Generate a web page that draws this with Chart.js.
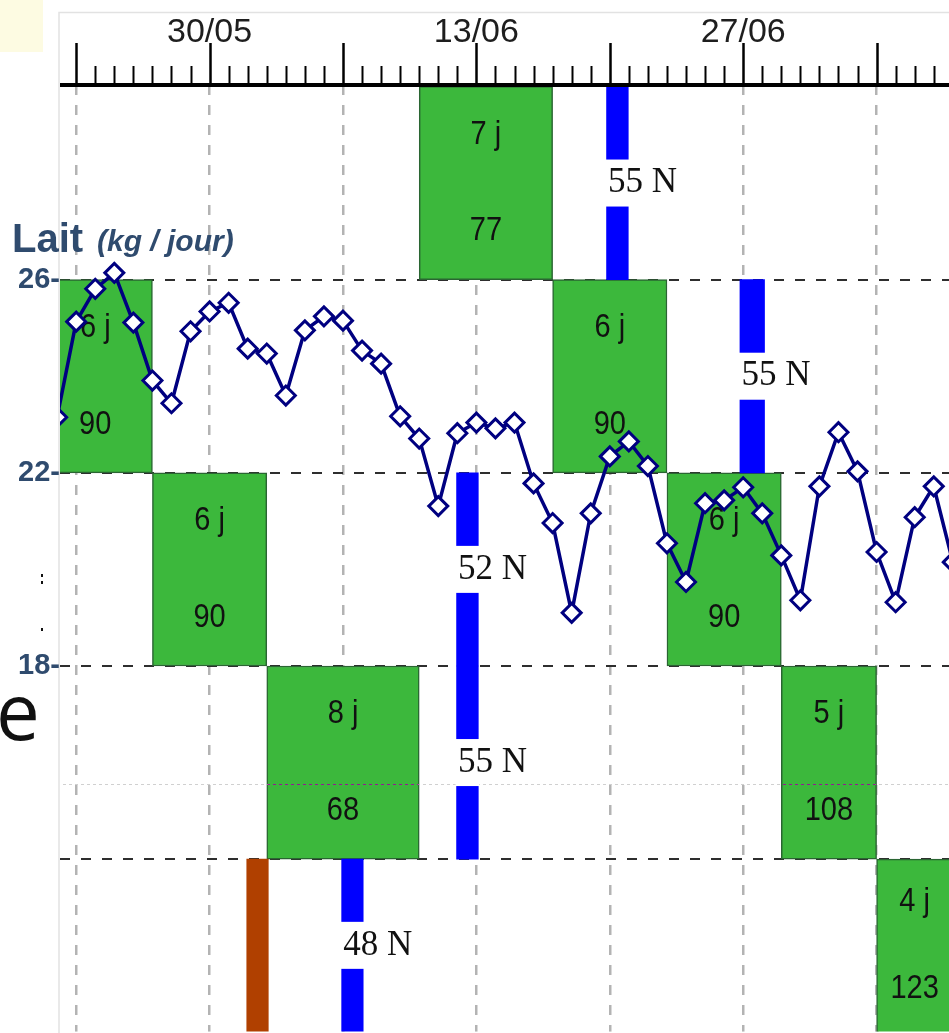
<!DOCTYPE html>
<html>
<head>
<meta charset="utf-8">
<script src="https://cdn.jsdelivr.net/npm/chart.js@4/dist/chart.umd.min.js"></script>
<style>
html,body{margin:0;padding:0;background:#fff;overflow:hidden}
#wrap{position:relative;width:949px;height:1033px}
canvas{display:block}
</style>
</head>
<body>
<div id="wrap"><canvas id="c" width="949" height="1033"></canvas></div>
<script>
// ---- Milk yield (kg / jour), one point per day; day 0 = 30/05 ----
const milkDays = [-8,-7,-6,-5,-4,-3,-2,-1,0,1,2,3,4,5,6,7,8,9,10,11,12,13,14,15,16,17,18,19,20,21,22,23,24,25,26,27,28,29,30,31,32,33,34,35,36,37,38,39];
const milkValues = [23.15,25.13,25.81,26.14,25.11,23.91,23.44,24.93,25.34,25.52,24.57,24.47,23.60,24.95,25.24,25.15,24.53,24.26,23.17,22.71,21.31,22.82,23.04,22.92,23.04,21.78,20.96,19.10,21.16,22.34,22.65,22.14,20.54,19.74,21.37,21.43,21.70,21.16,20.29,19.36,21.72,22.84,22.03,20.36,19.32,21.08,21.72,20.15];

// ---- Date axis ----
const tickDays = [0, 14, 28];
const tickLabels = ['30/05', '13/06', '27/06'];
const xMin = -7.85, xMax = 38.8;

// ---- Milk axis ----
const yTickValues = [26, 22, 18];
const rowLineValues = [14, 18, 22, 26];
const yMin = 10.43, yMax = 30.03;
const refLineValue = 15.55;

// ---- Grazing periods (paddock rows 0..4) ----
const grazeStart   = [-9, -3, 3, 11, 18, 24, 30, 35];
const grazeEnd     = [-3, 3, 11, 18, 24, 30, 35, 39];
const grazePaddock = [1, 2, 3, 0, 1, 2, 3, 4];
const grazeDays    = ['6 j', '6 j', '8 j', '7 j', '6 j', '6 j', '5 j', '4 j'];
const grazeAmount  = ['90', '90', '68', '77', '90', '90', '108', '123'];

// ---- Fertiliser applications ----
const fertStart   = [1.95, 6.93, 12.96, 12.96, 20.83, 27.83];
const fertEnd     = [3.08, 8.06, 14.10, 14.10, 21.97, 29.12];
const fertPaddock = [4, 4, 2, 3, 0, 1];
const fertLabel   = ['', '48 N', '52 N', '55 N', '55 N', '55 N'];
const fertKind    = ['other', 'N', 'N', 'N', 'N', 'N'];

// paddock row -> band on the shared value axis
const rowTop = r => 30 - 4 * r;
const rowBottom = r => 26 - 4 * r;
const rowCenter = r => 28 - 4 * r;

const SLATE = '#2f4b6e';

function bandPx(chart, r) {
  const y = chart.scales.y, a = chart.chartArea;
  return [Math.max(y.getPixelForValue(rowTop(r)), a.top), Math.min(y.getPixelForValue(rowBottom(r)), a.bottom)];
}
function drawText(ctx, text, x, y, font, color, align, sx) {
  ctx.save();
  ctx.font = font; ctx.fillStyle = color; ctx.textAlign = align; ctx.textBaseline = 'middle';
  ctx.translate(x, y); ctx.scale(sx, 1);
  ctx.fillText(text, 0, 0);
  ctx.restore();
}

const annot = {
  id: 'annot',
  beforeDraw(chart) {
    const ctx = chart.ctx, a = chart.chartArea;
    ctx.save();
    ctx.fillStyle = '#fdfbe2';
    ctx.fillRect(0, 0, 43, 52);
    ctx.strokeStyle = '#e2e2e2'; ctx.lineWidth = 1.5;
    ctx.beginPath();
    ctx.moveTo(a.left - 1, chart.height); ctx.lineTo(a.left - 1, 12.5); ctx.lineTo(chart.width, 12.5);
    ctx.stroke();
    ctx.restore();
  },
  afterDatasetDraw(chart, args) {
    const ds = chart.data.datasets[args.index];
    const ctx = chart.ctx, xs = chart.scales.x, ys = chart.scales.y, a = chart.chartArea;
    if (ds.id === 'graze') {
      ctx.save();
      ctx.beginPath(); ctx.rect(a.left, a.top, a.right - a.left, a.bottom - a.top); ctx.clip();
      grazeStart.forEach((s, i) => {
        const [t, b] = bandPx(chart, grazePaddock[i]);
        const cx = xs.getPixelForValue((s + grazeEnd[i]) / 2);
        const h = b - t;
        drawText(ctx, grazeDays[i], cx, t + 0.25 * h, '33px "Liberation Sans"', '#111', 'center', 0.88);
        drawText(ctx, grazeAmount[i], cx, t + 0.75 * h, '33px "Liberation Sans"', '#111', 'center', 0.88);
      });
      // dotted reference line
      const yy = Math.round(ys.getPixelForValue(refLineValue)) + 0.5;
      ctx.globalCompositeOperation = 'difference';
      ctx.strokeStyle = '#d0d0d0'; ctx.lineWidth = 1; ctx.setLineDash([3, 3]);
      ctx.beginPath(); ctx.moveTo(a.left + 3, yy); ctx.lineTo(a.right, yy); ctx.stroke();
      ctx.restore();
    }
    if (ds.id === 'fert') {
      ctx.save();
      ctx.beginPath(); ctx.rect(a.left, a.top, a.right - a.left, a.bottom - a.top); ctx.clip();
      fertStart.forEach((s, i) => {
        if (!fertLabel[i]) return;
        const [t, b] = bandPx(chart, fertPaddock[i]);
        const cy = (t + b) / 2;
        const x0 = xs.getPixelForValue(s), x1 = xs.getPixelForValue(fertEnd[i]);
        ctx.fillStyle = '#ffffff';
        ctx.fillRect(x0 - 1, cy - 23.5, x1 - x0 + 2, 47);
        drawText(ctx, fertLabel[i], x0 + 1.5, cy, '35px "Liberation Serif"', '#111', 'left', 1);
      });
      ctx.restore();
    }
  },
  afterDraw(chart) {
    const ctx = chart.ctx, xs = chart.scales.x, a = chart.chartArea;
    ctx.save();
    // top time axis: line + day ticks
    ctx.strokeStyle = '#000'; ctx.lineCap = 'butt';
    for (let d = Math.ceil(xs.min); d <= Math.floor(xs.max); d++) {
      const px = Math.round(xs.getPixelForValue(d)) + 0.5;
      const major = d % 7 === 0;
      ctx.lineWidth = major ? 2.5 : 2;
      ctx.beginPath(); ctx.moveTo(px, major ? 43 : 66); ctx.lineTo(px, a.top); ctx.stroke();
    }
    ctx.lineWidth = 4;
    ctx.beginPath(); ctx.moveTo(a.left, a.top); ctx.lineTo(a.right, a.top); ctx.stroke();
    // axis title
    ctx.fillStyle = SLATE; ctx.textBaseline = 'alphabetic'; ctx.textAlign = 'left';
    ctx.font = 'bold 40px "Liberation Sans"';
    ctx.fillText('Lait', 12, 252);
    ctx.font = 'italic bold 30px "Liberation Sans"';
    ctx.fillText('(kg / jour)', 97, 251);
    // stray slide text at the left edge
    ctx.fillStyle = '#111';
    ctx.font = '78px "Open Sans"';
    ctx.fillText('e', -4, 740);
    ctx.fillRect(41, 574, 2, 3);
    ctx.fillRect(41, 581, 2, 3);
    ctx.fillRect(41, 628, 2, 3);
    ctx.restore();
  }
};

const ctx = document.getElementById('c').getContext('2d');
new Chart(ctx, {
  type: 'line',
  data: {
    datasets: [
      {
        id: 'graze', type: 'bar', indexAxis: 'y',
        data: grazeStart.map((s, i) => ({ y: rowCenter(grazePaddock[i]), x: [s, grazeEnd[i]] })),
        backgroundColor: '#3cb83c', borderColor: '#2a6532', borderWidth: 1.5, borderSkipped: false,
        grouped: false, barPercentage: 1, categoryPercentage: 1, order: 3, clip: 0
      },
      {
        id: 'fert', type: 'bar', indexAxis: 'y',
        data: fertStart.map((s, i) => ({ y: rowCenter(fertPaddock[i]), x: [s, fertEnd[i]] })),
        backgroundColor: fertKind.map(k => k === 'N' ? '#0000ff' : '#b04000'),
        borderWidth: 0, borderSkipped: false,
        grouped: false, barPercentage: 1, categoryPercentage: 1, order: 2, clip: 0
      },
      {
        id: 'milk', type: 'line',
        data: milkDays.map((d, i) => ({ x: d, y: milkValues[i] })),
        borderColor: '#000080', borderWidth: 3.5, tension: 0,
        pointStyle: 'rectRot', pointRadius: 9.5, pointBackgroundColor: '#ffffff',
        pointBorderColor: '#000080', pointBorderWidth: 3, order: 0, clip: 0
      }
    ]
  },
  options: {
    responsive: false, animation: false, devicePixelRatio: 1, events: [],
    layout: { padding: 0, autoPadding: false },
    plugins: { legend: { display: false }, tooltip: { enabled: false }, title: { display: false } },
    scales: {
      x: {
        type: 'linear', position: 'top', min: xMin, max: xMax, offset: false, beginAtZero: false,
        afterFit: s => { s.height = 85; },
        afterBuildTicks: s => {
          const t = [];
          for (let d = Math.ceil(xMin); d <= Math.floor(xMax); d++) t.push({ value: d });
          s.ticks = t;
        },
        ticks: {
          autoSkip: false, maxRotation: 0, minRotation: 0, padding: 0,
          color: '#1e1e1e', font: { family: 'Liberation Sans', size: 34 },
          callback: v => { const k = tickDays.indexOf(v); return k >= 0 ? tickLabels[k] : ''; }
        },
        grid: {
          offset: false, drawTicks: true, tickLength: 32, tickColor: 'rgba(0,0,0,0)', lineWidth: 2.5,
          color: c => (c.tick && Math.abs(c.tick.value % 7) < 1e-6) ? '#b3b3b3' : 'rgba(0,0,0,0)'
        },
        border: { display: false, dash: [10, 10] }
      },
      y: {
        type: 'linear', position: 'left', min: yMin, max: yMax, offset: false,
        afterFit: s => { s.width = 60; },
        afterBuildTicks: s => { s.ticks = rowLineValues.map(v => ({ value: v })); },
        ticks: {
          padding: 0, color: SLATE, font: { family: 'Liberation Sans', size: 29, weight: 'bold', lineHeight: 0.1 },
          callback: v => yTickValues.includes(v) ? v + '-' : ''
        },
        grid: { offset: false, drawTicks: false, lineWidth: 2, color: '#2e2e2e' },
        border: { display: false, dash: [10, 11] }
      }
    }
  },
  plugins: [annot]
});
</script>
</body>
</html>
